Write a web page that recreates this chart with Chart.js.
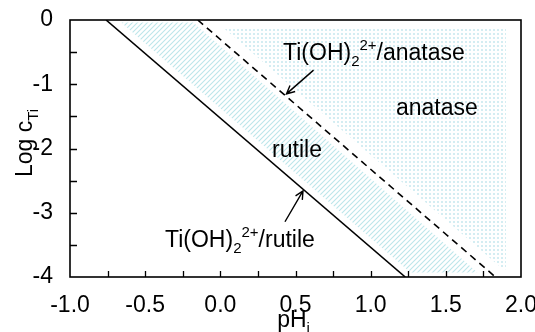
<!DOCTYPE html>
<html>
<head>
<meta charset="utf-8">
<script src="https://cdn.jsdelivr.net/npm/chart.js@4.4.0/dist/chart.umd.min.js"></script>
<style>
    body { margin: 0; background: #fff; }
</style>
</head>
<body>
<canvas id="myChart" width="535" height="332"></canvas>
<script>
// boundary lines (pH_i, log c_Ti)
var rutileLineX = [-0.76, 1.23];
var rutileLineY = [0, -4];
var anataseLineX = [-0.15, 1.83];
var anataseLineY = [0, -4];

// shaded stability regions
var rutileAreaX = [-0.66, -0.18, 1.71, 1.265];
var rutileAreaY = [-0.04, -0.04, -3.93, -3.93];
var anataseAreaX = [0.02, 1.9, 1.9, 1.88];
var anataseAreaY = [-0.12, -0.12, -3.88, -3.88];

// axis ticks
var xTicks = [-1.0, -0.5, 0.0, 0.5, 1.0, 1.5, 2.0];
var yTicks = [0, -1, -2, -3, -4];
var xMinorTicks = [-0.75, -0.5, -0.25, 0, 0.25, 0.5, 0.75, 1, 1.25, 1.5, 1.75];
var yMinorTicks = [-0.5, -1, -1.5, -2, -2.5, -3, -3.5];

// labels: [text, sub, sup, rest, x, y, align]
var labels = [
    ['Ti(OH)', '2', '2+', '/anatase', 0.417, -0.62, 'left'],
    ['anatase', '', '', '', 1.44, -1.48, 'center'],
    ['rutile', '', '', '', 0.51, -2.13, 'center'],
    ['Ti(OH)', '2', '2+', '/rutile', -0.368, -3.53, 'left']
];
// arrows: from x, from y, to x, to y
var arrows = [
    [0.62, -0.78, 0.44, -1.15],
    [0.43, -3.14, 0.55, -2.66]
];

function toPts(xs, ys) {
    return xs.map(function (x, i) { return { x: x, y: ys[i] }; });
}

var FONT = "'Liberation Sans', Arial, sans-serif";
var FS = 23;
var canvas = document.getElementById('myChart');
var ctx = canvas.getContext('2d');

function makeHatch() {
    var c = document.createElement('canvas');
    c.width = 5; c.height = 5;
    var g = c.getContext('2d');
    g.strokeStyle = 'rgb(188,229,234)';
    g.lineWidth = 1.1;
    g.beginPath();
    g.moveTo(-1, 6); g.lineTo(6, -1);
    g.moveTo(-1, 1); g.lineTo(1, -1);
    g.moveTo(4, 6); g.lineTo(6, 4);
    g.stroke();
    return ctx.createPattern(c, 'repeat');
}

function makeDots() {
    var c = document.createElement('canvas');
    c.width = 4; c.height = 4;
    var g = c.getContext('2d');
    g.fillStyle = 'rgba(120,200,215,0.32)';
    g.fillRect(1, 1, 2, 2);
    return ctx.createPattern(c, 'repeat');
}

function drawRich(g, parts, x, y, align, size) {
    var sm = Math.round(size * 0.65);
    g.font = size + 'px ' + FONT;
    var w0 = g.measureText(parts[0]).width;
    var w3 = g.measureText(parts[3]).width;
    g.font = sm + 'px ' + FONT;
    var w1 = g.measureText(parts[1]).width;
    var w2 = g.measureText(parts[2]).width;
    var total = w0 + w1 + w2 + w3;
    var sx = align === 'center' ? x - total / 2 : x;
    g.textAlign = 'left';
    g.textBaseline = 'alphabetic';
    g.font = size + 'px ' + FONT;
    g.fillText(parts[0], sx, y);
    sx += w0;
    g.font = sm + 'px ' + FONT;
    if (parts[1]) { g.fillText(parts[1], sx, y + size * 0.25); sx += w1; }
    if (parts[2]) { g.fillText(parts[2], sx, y - size * 0.42); sx += w2; }
    g.font = size + 'px ' + FONT;
    g.fillText(parts[3], sx, y);
}

var extras = {
    id: 'extras',
    afterDraw: function (chart) {
        var g = chart.ctx;
        var a = chart.chartArea;
        var xs = chart.scales.x, ys = chart.scales.y;
        g.save();
        g.strokeStyle = '#000';
        g.fillStyle = '#000';
        // ticks
        g.lineWidth = 1.3;
        g.beginPath();
        xMinorTicks.forEach(function (v) {
            var px = Math.round(xs.getPixelForValue(v)) + 0.5;
            g.moveTo(px, a.bottom); g.lineTo(px, a.bottom - 6);
        });
        yMinorTicks.forEach(function (v) {
            var py = Math.round(ys.getPixelForValue(v)) + 0.5;
            g.moveTo(a.left, py); g.lineTo(a.left + 7, py);
        });
        g.stroke();
        // frame
        g.lineWidth = 1.6;
        g.strokeRect(a.left, a.top, a.right - a.left, a.bottom - a.top);
        // labels
        labels.forEach(function (l) {
            drawRich(g, l, xs.getPixelForValue(l[4]), ys.getPixelForValue(l[5]), l[6], FS);
        });
        // arrows
        g.lineWidth = 1.4;
        arrows.forEach(function (r) {
            var x1 = xs.getPixelForValue(r[0]), y1 = ys.getPixelForValue(r[1]);
            var x2 = xs.getPixelForValue(r[2]), y2 = ys.getPixelForValue(r[3]);
            var ang = Math.atan2(y2 - y1, x2 - x1);
            g.beginPath();
            g.moveTo(x1, y1); g.lineTo(x2, y2);
            g.moveTo(x2 - 9 * Math.cos(ang - 0.45), y2 - 9 * Math.sin(ang - 0.45));
            g.lineTo(x2, y2);
            g.lineTo(x2 - 9 * Math.cos(ang + 0.45), y2 - 9 * Math.sin(ang + 0.45));
            g.stroke();
        });
        // axis titles
        drawRich(g, ['pH', 'i', '', ''], (a.left + a.right) / 2 - 2, 327, 'center', FS);
        g.translate(32, 143);
        g.rotate(-Math.PI / 2);
        drawRich(g, ['Log c', 'Ti', '', ''], 0, 0, 'center', FS);
        g.restore();
    }
};

new Chart(ctx, {
    type: 'scatter',
    data: {
        datasets: [{
            data: toPts(rutileLineX, rutileLineY),
            showLine: true,
            borderColor: '#000',
            borderWidth: 1.6,
            pointRadius: 0,
            order: 0
        }, {
            data: toPts(anataseLineX, anataseLineY),
            showLine: true,
            borderColor: '#000',
            borderWidth: 1.6,
            borderDash: [7, 5],
            pointRadius: 0,
            order: 0
        }, {
            data: toPts(rutileAreaX, rutileAreaY),
            showLine: true,
            borderWidth: 0,
            borderColor: 'rgba(0,0,0,0)',
            backgroundColor: makeHatch(),
            fill: 'shape',
            pointRadius: 0,
            order: 1
        }, {
            data: toPts(anataseAreaX, anataseAreaY),
            showLine: true,
            borderWidth: 0,
            borderColor: 'rgba(0,0,0,0)',
            backgroundColor: makeDots(),
            fill: 'shape',
            pointRadius: 0,
            order: 1
        }]
    },
    options: {
        responsive: false,
        animation: false,
        layout: { padding: { left: 0, right: 14, top: 20, bottom: 0 } },
        plugins: {
            legend: { display: false },
            tooltip: { enabled: false }
        },
        scales: {
            x: {
                type: 'linear',
                min: -1,
                max: 2,
                afterBuildTicks: function (s) { s.ticks = xTicks.map(function (v) { return { value: v }; }); },
                afterFit: function (s) { s.height = 55; s.paddingLeft = 0; s.paddingRight = 0; },
                ticks: {
                    autoSkip: false,
                    maxRotation: 0,
                    padding: 7,
                    color: '#000',
                    font: { size: FS, family: FONT },
                    callback: function (v) { return v.toFixed(1); }
                },
                grid: { display: false },
                border: { display: false }
            },
            y: {
                min: -4,
                max: 0,
                afterBuildTicks: function (s) { s.ticks = yTicks.map(function (v) { return { value: v }; }); },
                afterFit: function (s) { s.width = 70; s.paddingTop = 0; s.paddingBottom = 0; },
                ticks: {
                    padding: 9,
                    color: '#000',
                    font: { size: FS, family: FONT },
                    callback: function (v) { return String(v); }
                },
                grid: { display: false },
                border: { display: false }
            }
        }
    },
    plugins: [extras]
});
</script>
</body>
</html>
